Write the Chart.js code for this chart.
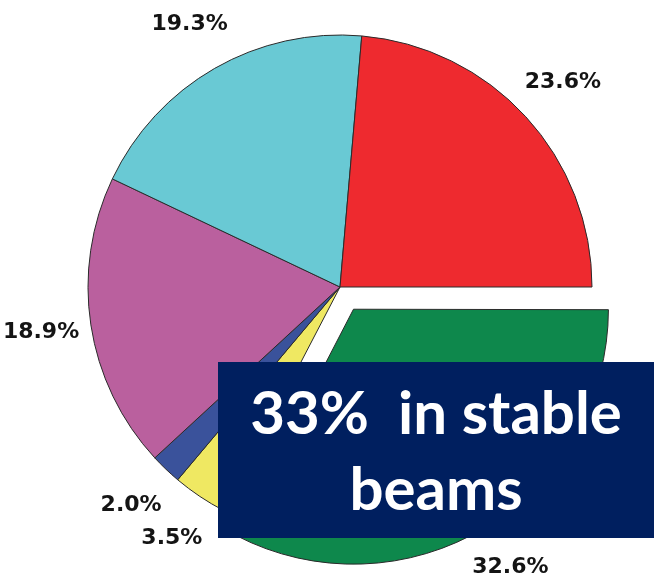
<!DOCTYPE html>
<html>
<head>
<meta charset="utf-8">
<script src="https://cdn.jsdelivr.net/npm/chart.js@4/dist/chart.umd.min.js"></script>
<style>
  html, body { margin: 0; padding: 0; background: #ffffff; }
  #wrap { position: relative; width: 654px; height: 577px; overflow: hidden; }
  #pie { position: absolute; left: 0; top: 0; filter: blur(0.6px); }
  #note {
    position: absolute; left: 218px; top: 362px; width: 436px; height: 176px;
    background: #001f5f; color: #ffffff;
    font-family: Lato, "Open Sans", sans-serif; font-weight: 700;
    font-size: 60px; line-height: 76px; text-align: center;
    white-space: pre; padding-top: 11px; box-sizing: border-box;
  }
</style>
</head>
<body>
<div id="wrap">
  <canvas id="pie" width="654" height="577"></canvas>
  <div id="note">33%  in stable
beams</div>
</div>
<script>
// Slices in drawing order, clockwise from 3 o'clock
const shares      = [32.6, 3.5, 2.0, 18.9, 19.3, 23.6];
const sliceColors = ['#0e884c', '#efe862', '#3a529b', '#ba609e', '#69c9d4', '#ee2a2f'];
const explode     = [26, 0, 0, 0, 0, 0];   // outward shift in px
const pctLabels   = shares.map(v => v.toFixed(1) + '%');

// Percent labels placed outside each slice
const outsideLabels = {
  id: 'outsideLabels',
  afterDatasetsDraw(chart) {
    const ctx = chart.ctx;
    const meta = chart.getDatasetMeta(0);
    ctx.save();
    ctx.font = 'bold 22px "DejaVu Sans", sans-serif';
    ctx.fillStyle = '#141414';
    ctx.textAlign = 'center';
    ctx.textBaseline = 'middle';
    meta.data.forEach((arc, i) => {
      const p = arc.getProps(['x', 'y', 'startAngle', 'endAngle', 'outerRadius'], true);
      const mid = (p.startAngle + p.endAngle) / 2;
      const r = p.outerRadius * 1.2 + explode[i];
      ctx.fillText(pctLabels[i], p.x + Math.cos(mid) * r, p.y + Math.sin(mid) * r);
    });
    ctx.restore();
  }
};

new Chart(document.getElementById('pie'), {
  type: 'pie',
  data: {
    labels: pctLabels,
    datasets: [{
      data: shares,
      backgroundColor: sliceColors,
      borderColor: '#2a2a2a',
      borderWidth: 1,
      offset: explode.map(v => v * 4),
      hoverOffset: 0,
      clip: false
    }]
  },
  options: {
    responsive: false,
    animation: false,
    rotation: 90,
    radius: 252,
    layout: { padding: { left: 26, right: 0, top: 0, bottom: 3 } },
    plugins: { legend: { display: false }, tooltip: { enabled: false } },
    events: []
  },
  plugins: [outsideLabels]
});
</script>
</body>
</html>
